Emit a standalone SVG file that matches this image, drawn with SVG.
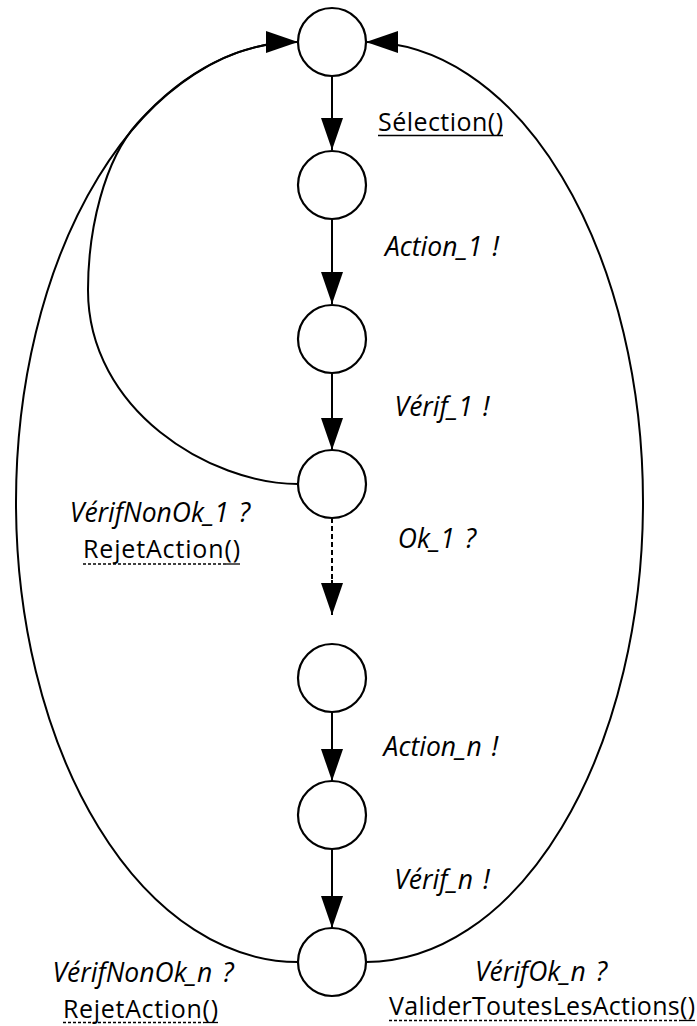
<svg xmlns="http://www.w3.org/2000/svg" width="697" height="1026" viewBox="0 0 697 1026">
<style>
.node{fill:#fff;stroke:#000;stroke-width:2.2}
.edge{fill:none;stroke:#000;stroke-width:2}
.dash{stroke-dasharray:5 3}
.lbl{font-family:"Open Sans","Liberation Sans",sans-serif;font-size:25px;fill:#000}
.it{font-style:italic;font-size:26.5px;word-spacing:3px}
.mid{text-anchor:middle}
.ul{stroke:#000;stroke-width:1.3;fill:none}
.uld{stroke:#000;stroke-width:1.3;stroke-dasharray:3 2;fill:none}
</style>
<defs>
<marker id="arr" viewBox="0 0 32 22" refX="32" refY="11" markerWidth="32" markerHeight="22" markerUnits="userSpaceOnUse" orient="auto">
<path d="M0,0 L32,11 L0,22 Z" fill="#000"/>
</marker>
</defs>
<g id="connectors">
<line class="edge" x1="332" y1="76" x2="332" y2="150" marker-end="url(#arr)"/>
<line class="edge" x1="332" y1="219" x2="332" y2="304" marker-end="url(#arr)"/>
<line class="edge" x1="332" y1="373" x2="332" y2="450" marker-end="url(#arr)"/>
<line class="edge dash" x1="332" y1="518" x2="332" y2="584"/>
<line class="edge" x1="332" y1="580" x2="332" y2="615" marker-end="url(#arr)"/>
<line class="edge" x1="332" y1="712" x2="332" y2="781" marker-end="url(#arr)"/>
<line class="edge" x1="332" y1="849" x2="332" y2="928" marker-end="url(#arr)"/>
<path class="edge" d="M298,962 A282,460 0 0 1 298,42" marker-end="url(#arr)"/>
<path class="edge" d="M298,484 C210,484 88,410 88,290 C88,230 104,160 137.6,123 A282,460 0 0 1 298,42"/>
<path class="edge" d="M366,962 A277,460 0 0 0 366,42" marker-end="url(#arr)"/>
</g>
<g id="n1"><circle class="node" cx="332" cy="42" r="34"/></g>
<g id="n2"><circle class="node" cx="332" cy="185" r="34"/></g>
<g id="n3"><circle class="node" cx="332" cy="339" r="34"/></g>
<g id="n4"><circle class="node" cx="332" cy="484" r="34"/></g>
<g id="n5"><circle class="node" cx="332" cy="678" r="34"/></g>
<g id="n6"><circle class="node" cx="332" cy="815" r="34"/></g>
<g id="n7"><circle class="node" cx="332" cy="962" r="34"/></g>
<g id="labels">
<text class="lbl" x="378" y="131" textLength="125">Sélection()</text>
<line class="ul" x1="378" y1="135.5" x2="503" y2="135.5"/>
<text class="lbl it mid" x="442" y="256">Action_1 !</text>
<text class="lbl it mid" x="442" y="416">Vérif_1 !</text>
<text class="lbl it mid" x="437" y="548">Ok_1 ?</text>
<text class="lbl it mid" x="160" y="522">VérifNonOk_1 ?</text>
<text class="lbl" x="83" y="558" textLength="157">RejetAction()</text>
<line class="uld" x1="83" y1="564" x2="226" y2="564"/>
<line class="ul" x1="226" y1="564" x2="240" y2="564"/>
<text class="lbl it mid" x="441" y="756">Action_n !</text>
<text class="lbl it mid" x="442" y="889">Vérif_n !</text>
<text class="lbl it mid" x="143" y="982">VérifNonOk_n ?</text>
<text class="lbl" x="63" y="1018" textLength="155">RejetAction()</text>
<line class="uld" x1="63" y1="1022.5" x2="204" y2="1022.5"/>
<line class="ul" x1="204" y1="1022.5" x2="218" y2="1022.5"/>
<text class="lbl it mid" x="541" y="981">VérifOk_n ?</text>
<text class="lbl" x="389" y="1015" textLength="306">ValiderToutesLesActions()</text>
<line class="uld" x1="389" y1="1020.5" x2="680" y2="1020.5"/>
<line class="ul" x1="680" y1="1020.5" x2="695" y2="1020.5"/>
</g>
</svg>
